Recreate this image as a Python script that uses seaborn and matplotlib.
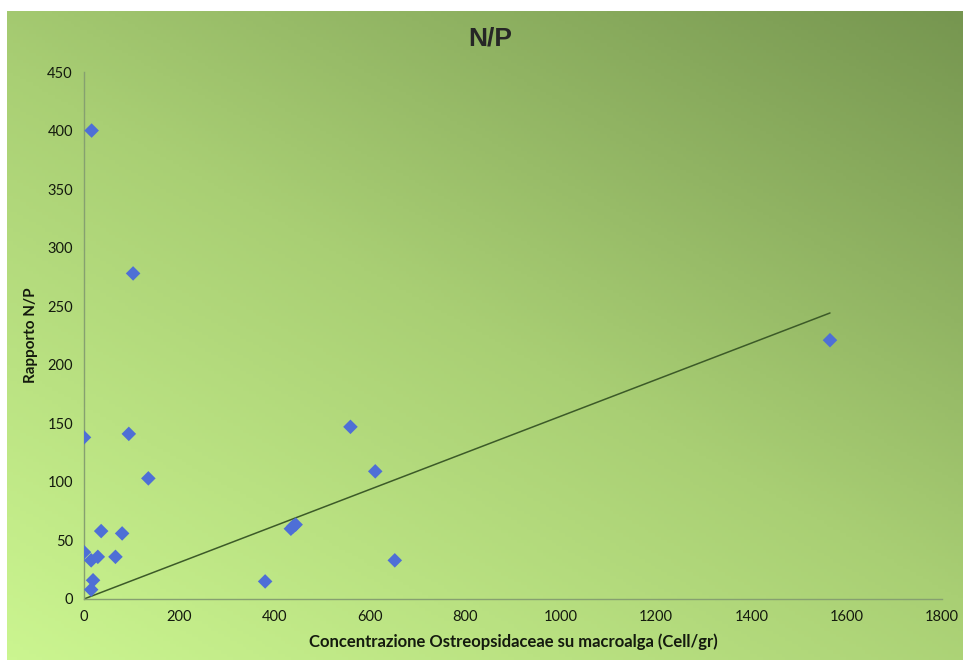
import numpy as np
import pandas as pd
import seaborn as sns
import matplotlib.pyplot as plt
from matplotlib.colors import LinearSegmentedColormap

# dati
concentrazione = [16, 103, 0, 94, 135, 36, 80, 0, 15, 29, 66, 19, 15,
                  380, 434, 439, 444, 559, 611, 652, 1565]
rapporto_np = [400, 278, 138, 141, 103, 58, 56, 40, 33, 36, 36, 16, 8,
               15, 60, 62, 63.5, 147, 109, 33, 221]

df = pd.DataFrame({'conc': concentrazione, 'np': rapporto_np})

# retta di tendenza passante per l'origine (minimi quadrati)
x = df['conc'].to_numpy(float)
y = df['np'].to_numpy(float)
pendenza = (x * y).sum() / (x * x).sum()
trend = pd.DataFrame({'conc': [0, x.max()]})
trend['np'] = trend['conc'] * pendenza

sns.set_style('white')
plt.rcParams['font.family'] = ['Lato', 'DejaVu Sans']

fig = plt.figure(figsize=(9.63, 6.60), dpi=100)

# sfondo sfumato verde
bg = fig.add_axes([7 / 963, 0, 1 - 7 / 963, 1 - 11 / 660], zorder=0)
u, v = np.meshgrid(np.linspace(0, 1, 300), np.linspace(1, 0, 200))
t = 0.45 * u + 0.55 * v
cmap = LinearSegmentedColormap.from_list(
    'verde', ['#cbf590', '#a9cf74', '#769650'])
bg.imshow(t, cmap=cmap, aspect='auto', extent=[0, 1, 0, 1])
bg.axis('off')

ax = fig.add_axes([84 / 963, 1 - 599 / 660, (942 - 84) / 963, (599 - 72) / 660], zorder=1)
ax.set_facecolor('none')

sns.lineplot(data=trend, x='conc', y='np', ax=ax, color='#3c5a28', linewidth=1.1)
sns.scatterplot(data=df, x='conc', y='np', ax=ax, marker='D', s=55,
                color='#4e6fd6', edgecolor='none', zorder=3)

ax.set_xlim(0, 1800)
ax.set_ylim(0, 450)
ax.set_xticks(range(0, 1801, 200))
ax.set_yticks(range(0, 451, 50))
ax.tick_params(length=0, labelsize=10.5, colors='#141a0e', pad=8)

for s in ['top', 'right']:
    ax.spines[s].set_visible(False)
for s in ['left', 'bottom']:
    ax.spines[s].set_color('#86a070')
    ax.spines[s].set_linewidth(1)

ax.set_xlabel('Concentrazione Ostreopsidaceae su macroalga (Cell/gr)',
              fontsize=12, fontweight='bold', color='#141a0e', labelpad=7)
ax.set_ylabel('Rapporto N/P', fontsize=11, fontweight='bold', color='#141a0e', labelpad=7)
fig.text(490 / 963, 1 - 39 / 660, 'N/P', ha='center', va='center',
         fontsize=19, fontweight='bold', family=['Liberation Sans', 'DejaVu Sans'])

fig.savefig('out.png', dpi=100)
